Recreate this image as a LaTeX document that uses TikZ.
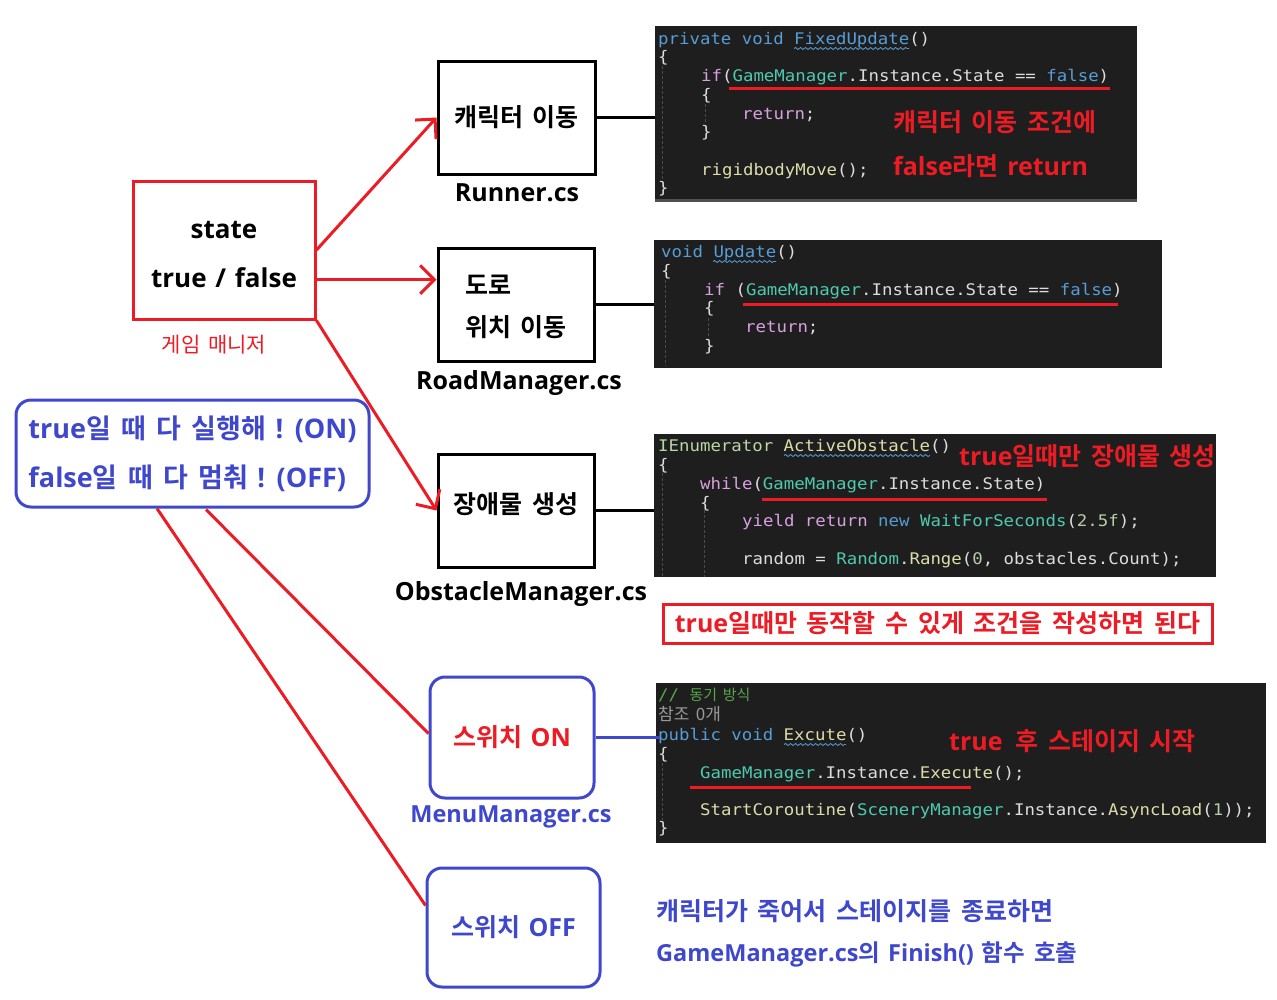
\documentclass[tikz,border=0pt]{standalone}
\usepackage{fontspec}
\setmainfont{Open Sans}[WordSpace=1.3]
\newfontfamily\kr{Noto Sans CJK KR}[Scale=1.0,WordSpace=1.7,BoldFont={Noto Sans CJK KR Bold}]
\newfontfamily\codefont{DejaVu Sans Mono}[FakeStretch=1.086]
\usetikzlibrary{arrows.meta,calc,decorations.pathmorphing}
\definecolor{mred}{HTML}{ED1C24}
\definecolor{mblue}{HTML}{3F48CC}
\definecolor{cbg}{HTML}{1E1E1E}
\definecolor{ccD}{HTML}{DCDCDC}
\definecolor{ckw}{HTML}{569CD6}
\definecolor{cctl}{HTML}{D8A0DF}
\definecolor{cty}{HTML}{4EC9B0}
\definecolor{cmth}{HTML}{DCDCAA}
\definecolor{cnum}{HTML}{B5CEA8}
\definecolor{ccom}{HTML}{57A64A}
\definecolor{clens}{HTML}{999999}
\definecolor{cif}{HTML}{B8D7A3}
\definecolor{cguide}{HTML}{4A4A4A}
\definecolor{cedge}{HTML}{505050}
\newcommand\hk[1]{{\kr #1}}
\newcommand\ccK[1]{\textcolor{ckw}{#1}}
\newcommand\ccC[1]{\textcolor{cctl}{#1}}
\newcommand\ccT[1]{\textcolor{cty}{#1}}
\newcommand\ccM[1]{\textcolor{cmth}{#1}}
\newcommand\ccN[1]{\textcolor{cnum}{#1}}
\newcommand\ccI[1]{\textcolor{cif}{#1}}
\tikzset{
  blk/.style={draw=black, line width=3pt, inner sep=0pt},
  rbx/.style={draw=mred, line width=3pt, inner sep=0pt},
  bbx/.style={draw=mblue, line width=3pt, rounded corners=15pt, inner sep=0pt, font=\bfseries\fontsize{25pt}{30pt}\selectfont},
  codebg/.style={fill=cbg, draw=none, inner sep=0pt},
  cl/.style={anchor=mid west, yshift=-3pt, inner sep=0pt, text=ccD, font=\codefont\fontsize{16pt}{16pt}\selectfont},
  lbl/.style={inner sep=0pt, font=\bfseries\fontsize{25pt}{30pt}\selectfont},
  uline/.style={draw=mred, line width=3pt},
  guide/.style={draw=cguide, line width=1pt, dash pattern=on 3pt off 2pt},
  squig/.style={draw=ckw, line width=0.8pt, decorate, decoration={snake, amplitude=1pt, segment length=5pt}},
  rarr/.style={draw=mred, line width=3pt, -{Straight Barb[angle=90:20pt]}},
  rln/.style={draw=mred, line width=3pt},
  conn/.style={draw=black, line width=3pt},
}
\begin{document}
\begin{tikzpicture}[x=1pt,y=-1pt]
\path[use as bounding box, fill=white] (0,0) rectangle (1277,999);

% ---------- code blocks ----------
\node[codebg, minimum width=482pt, minimum height=176pt] (code1) at (896,114) {};
\fill[cedge] ($(code1.south west)+(0,-3)$) rectangle (code1.south east);
\node[codebg, minimum width=508pt, minimum height=128pt] (code2) at (908,304) {};
\node[codebg, minimum width=562pt, minimum height=143pt] (code3) at (935,505.5) {};
\node[codebg, minimum width=610pt, minimum height=160pt] (code4) at (961,763) {};

% indent guides
\draw[guide] (662,66) -- (662,182);
\draw[guide] (705,104) -- (705,124);
\draw[guide] (665,280) -- (665,366);
\draw[guide] (708,318) -- (708,338);
\draw[guide] (662,473) -- (662,577);
\draw[guide] (704,510) -- (704,577);
\draw[guide] (662,763) -- (662,820);

% block 1
\node[cl] (c1a) at (658,39) {\ccK{private void} \ccK{FixedUpdate}()};
\node[cl] (c1b) at (658,57) {\{};
\node[cl] (c1c) at (701,76) {\ccC{if}(\ccT{GameManager}.Instance.State == \ccK{false})};
\node[cl] (c1d) at (701,95) {\{};
\node[cl] (c1e) at (742,114) {\ccC{return};};
\node[cl] (c1f) at (701,132) {\}};
\node[cl] (c1g) at (701,170) {\ccM{rigidbodyMove}();};
\node[cl] (c1h) at (658,188) {\}};
\draw[squig] (794,48.5) -- (909,48.5);
\draw[uline] (729,88) -- (1110,88);

% block 2
\node[cl] (c2a) at (661,252) {\ccK{void} \ccK{Update}()};
\node[cl] (c2b) at (661,271) {\{};
\node[cl] (c2c) at (704,290) {\ccC{if} (\ccT{GameManager}.Instance.State == \ccK{false})};
\node[cl] (c2d) at (704,308) {\{};
\node[cl] (c2e) at (745,327) {\ccC{return};};
\node[cl] (c2f) at (704,346) {\}};
\draw[squig] (713,261.5) -- (776,261.5);
\draw[uline] (743,304) -- (1118,304);

% block 3
\node[cl] (c3a) at (658,446) {\ccI{IEnumerator} \ccM{ActiveObstacle}()};
\node[cl] (c3b) at (658,465) {\{};
\node[cl] (c3c) at (700,484) {\ccC{while}(\ccT{GameManager}.Instance.State)};
\node[cl] (c3d) at (700,503) {\{};
\node[cl] (c3e) at (742,521) {\ccC{yield return} \ccK{new} \ccT{WaitForSeconds}(\ccN{2.5f});};
\node[cl] (c3f) at (742,559) {random = \ccT{Random}.\ccM{Range}(\ccN{0}, obstacles.Count);};
\draw[squig] (784,455.5) -- (930,455.5);
\draw[uline] (762,499) -- (1047,499);

% block 4
\node[cl, text=ccom] (c4a) at (658,695) {// \hk{\fontsize{15pt}{15pt}\selectfont 동기 방식}};
\node[cl, text=clens, font=\kr\fontsize{17pt}{17pt}\selectfont] (c4b) at (658,715) {참조 0개};
\node[cl] (c4c) at (658,735) {\ccK{public void} \ccM{Excute}()};
\node[cl] (c4d) at (658,754) {\{};
\node[cl] (c4e) at (700,773) {\ccT{GameManager}.Instance.\ccM{Execute}();};
\node[cl] (c4f) at (700,810) {\ccM{StartCoroutine}(\ccT{SceneryManager}.Instance.\ccM{AsyncLoad}(\ccN{1}));};
\node[cl] (c4g) at (658,828) {\}};
\draw[squig] (784,744.5) -- (846,744.5);
\draw[uline] (690,787) -- (971,787);

% annotations in code
\node[lbl, text=mred, anchor=west] (a1) at (893,122) {\hk{캐릭터 이동 조건에}};
\node[lbl, text=mred, anchor=west] (a2) at (893,166) {false\hk{라면} return};
\node[lbl, text=mred, anchor=west] (a3) at (959,456) {true\hk{일때만 장애물 생성}};
\node[lbl, text=mred, anchor=west] (a4) at (949,741) {true\hspace{13pt}\hk{후 스테이지 시작}};

% red note box
\node[rbx, minimum width=549pt, minimum height=39pt, text=mred, font=\bfseries\fontsize{25pt}{28pt}\selectfont] (note) at (937.5,623.5) {true\hk{일때만 동작할 수 있게 조건을 작성하면 된다}};

% ---------- left diagram ----------
\node[rbx, minimum width=182pt, minimum height=138pt] (state) at (224,250) {};
\node[inner sep=0pt, align=center, font=\bfseries\fontsize{26pt}{49pt}\selectfont] (statetxt) at (224,255) {state\\true / false};
\node[inner sep=0pt, text=mred, font=\fontsize{21pt}{21pt}\selectfont] (gm) at (214,345) {\hk{게임 매니저}};

\node[blk, minimum width=157pt, minimum height=113pt, font=\bfseries\fontsize{25pt}{30pt}\selectfont] (runner) at (516.5,117.5) {\hk{캐릭터 이동}};
\node[lbl] (runnerf) at (517,193) {Runner.cs};
\node[blk, minimum width=156pt, minimum height=113pt] (road) at (516,304.5) {};
\node[inner sep=0pt, align=left, font=\bfseries\fontsize{25pt}{42pt}\selectfont] (roadtxt) at (516,307) {\hk{도로}\\\hk{위치 이동}};
\node[lbl] (roadf) at (519,383) {RoadManager.cs};
\node[blk, minimum width=156pt, minimum height=113pt] (obst) at (516,510.5) {};
\node[lbl] (obsttxt) at (516,504) {\hk{장애물 생성}};
\node[lbl] (obstf) at (521,594) {ObstacleManager.cs};

\node[bbx, minimum width=353pt, minimum height=107pt, align=left, text=mblue, font=\bfseries\fontsize{27pt}{49pt}\selectfont] (info) at (192.5,453.5) {true\hk{일 때 다 실행해} ! (ON)\\false\hk{일 때 다 멈춰} ! (OFF)};

\node[bbx, minimum width=164pt, minimum height=121pt, text=mred] (on) at (512,737.5) {\hk{스위치} ON};
\node[lbl, text=mblue, font=\bfseries\fontsize{23.5pt}{28pt}\selectfont] (onf) at (511,817) {MenuManager.cs};
\node[bbx, minimum width=173pt, minimum height=119pt, text=mblue] (off) at (513.5,927.5) {\hk{스위치} OFF};

\node[lbl, text=mblue, anchor=west, font=\bfseries\fontsize{25pt}{28pt}\selectfont] (b1) at (656,911) {\hk{캐릭터가 죽어서 스테이지를 종료하면}};
\node[lbl, text=mblue, anchor=west, font=\bfseries\fontsize{23.5pt}{28pt}\selectfont] (b2) at (656,954) {GameManager.cs\hk{의} Finish() \hk{함수 호출}};

% ---------- connectors ----------
\draw[rarr] (state.east) -- (runner.west);
\coordinate (s2) at ($(state.south east)!0.29!(state.north east)$);
\draw[rarr] (s2) -- (s2 -| road.west);
\draw[rarr] (state.south east) -- (obst.west);
\draw[conn] (runner.east) -- (runner.east -| code1.west);
\draw[conn] (road.east) -- (road.east -| code2.west);
\draw[conn] (obst.east) -- (obst.east -| code3.west);
\coordinate (i1) at ($(info.south)+(13.5,1)$);
\coordinate (i2) at ($(info.south)+(-35.5,0)$);
\draw[rln] (i1) -- ($(on.west)+(0,-4)$);
\draw[rln] (i2) -- ($(off.west)+(0,-22)$);
\coordinate (c4in) at ($(code4.west)+(4,0)$);
\draw[draw=mblue, line width=3pt] (on.east) -- (on.east -| c4in);
\end{tikzpicture}
\end{document}
